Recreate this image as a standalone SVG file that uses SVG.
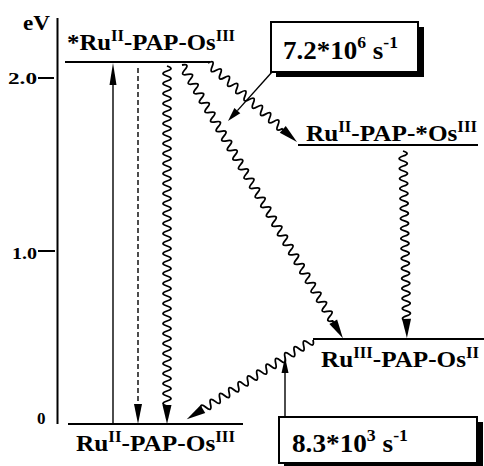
<svg xmlns="http://www.w3.org/2000/svg" width="484" height="466" viewBox="0 0 484 466">
<style>
text{font-family:"Liberation Serif","Times New Roman",serif;font-weight:bold;fill:#000}
.lvl{stroke:#000;stroke-width:2;fill:none}
.wave{stroke:#000;stroke-width:1.8;fill:none}
.ln{stroke:#000;stroke-width:1.4;fill:none}
.head{fill:#000;stroke:none}
.lab{font-size:24px}
.sup{font-size:16px}
.rate{font-size:26px}
.rsup{font-size:17px}
.box{fill:#fff;stroke:#000;stroke-width:2}
.shadow{fill:#000}
</style>
<g id="axis">
<line class="lvl" x1="57.5" y1="18" x2="57.5" y2="424"/>
<line class="lvl" x1="38" y1="78" x2="54" y2="78"/>
<line class="lvl" x1="38" y1="251" x2="55" y2="251"/>
<text x="23" y="30" font-size="21" textLength="27" lengthAdjust="spacingAndGlyphs">eV</text>
<text x="8" y="84" font-size="17" textLength="29" lengthAdjust="spacingAndGlyphs">2.0</text>
<text x="12" y="259" font-size="17" textLength="25" lengthAdjust="spacingAndGlyphs">1.0</text>
<text x="37" y="424" font-size="17">0</text>
</g>
<g id="level-excited">
<line class="lvl" x1="65" y1="62" x2="210" y2="62"/>
<text class="lab" x="67" y="50" textLength="168" lengthAdjust="spacingAndGlyphs">*Ru<tspan class="sup" dy="-9">II</tspan><tspan dy="9">-PAP-Os</tspan><tspan class="sup" dy="-9">III</tspan></text>
</g>
<g id="level-os-excited">
<line class="lvl" x1="298" y1="145" x2="478" y2="145"/>
<text class="lab" x="306" y="141" textLength="171" lengthAdjust="spacingAndGlyphs">Ru<tspan class="sup" dy="-9">II</tspan><tspan dy="9">-PAP-*Os</tspan><tspan class="sup" dy="-9">III</tspan></text>
</g>
<g id="level-cs">
<line class="lvl" x1="313" y1="339" x2="484" y2="339"/>
<text class="lab" x="321" y="367" textLength="158" lengthAdjust="spacingAndGlyphs">Ru<tspan class="sup" dy="-9">III</tspan><tspan dy="9">-PAP-Os</tspan><tspan class="sup" dy="-9">II</tspan></text>
</g>
<g id="level-ground">
<line class="lvl" x1="68" y1="424" x2="243" y2="424"/>
<text class="lab" x="76" y="451" textLength="159" lengthAdjust="spacingAndGlyphs">Ru<tspan class="sup" dy="-9">II</tspan><tspan dy="9">-PAP-Os</tspan><tspan class="sup" dy="-9">III</tspan></text>
</g>
<g id="rate1">
<rect class="shadow" x="276" y="27" width="148" height="50"/>
<rect class="box" x="271" y="22" width="147" height="50"/>
<text class="rate" x="283" y="59" textLength="115" lengthAdjust="spacingAndGlyphs">7.2*10<tspan class="rsup" dy="-11">6</tspan><tspan dy="11"> s</tspan><tspan class="rsup" dy="-11">-1</tspan></text>
</g>
<g id="rate2">
<rect class="shadow" x="284" y="422" width="199" height="46"/>
<rect class="box" x="279" y="417" width="198" height="46"/>
<text class="rate" x="292" y="452" textLength="116" lengthAdjust="spacingAndGlyphs">8.3*10<tspan class="rsup" dy="-11">3</tspan><tspan dy="11"> s</tspan><tspan class="rsup" dy="-11">-1</tspan></text>
</g>
<g id="connectors">
<line class="ln" x1="113" y1="424" x2="113" y2="80"/>
<polygon class="head" points="113,63 109.5,85 116.5,85"/>
<line class="ln" x1="138" y1="68" x2="138" y2="405" stroke-dasharray="5 3"/>
<polygon class="head" points="138,424 134,404 142,404"/>
<g transform="translate(167,66) rotate(90)">
<path class="wave" d="M0 0 q2.5 -8 5 0 t5 0 t5 0 t5 0 t5 0 t5 0 t5 0 t5 0 t5 0 t5 0 t5 0 t5 0 t5 0 t5 0 t5 0 t5 0 t5 0 t5 0 t5 0 t5 0 t5 0 t5 0 t5 0 t5 0 t5 0 t5 0 t5 0 t5 0 t5 0 t5 0 t5 0 t5 0 t5 0 t5 0 t5 0 t5 0 t5 0 t5 0 t5 0 t5 0 t5 0 t5 0 t5 0 t5 0 t5 0 t5 0 t5 0 t5 0 t5 0 t5 0 t5 0 t5 0 t5 0 t5 0 t5 0 t5 0 t5 0 t5 0 t5 0 t5 0 t5 0 t5 0 t5 0 t5 0 t5 0 t5 0 t5 0 t5 0 L344 0"/>
<polygon class="head" points="358,0 339,-4.5 339,4.5"/>
</g>
<g transform="translate(208,63) rotate(41.6)">
<path class="wave" d="M0 0 q2.75 -8 5.5 0 t5.5 0 t5.5 0 t5.5 0 t5.5 0 t5.5 0 t5.5 0 t5.5 0 t5.5 0 t5.5 0 t5.5 0 t5.5 0 t5.5 0 t5.5 0 t5.5 0 t5.5 0 t5.5 0 t5.5 0 L103 0"/>
<polygon class="head" points="119,0 100,-4.5 100,4.5"/>
</g>
<g transform="translate(182,65) rotate(59.5)">
<path class="wave" d="M0 0 q2.75 -8 5.5 0 t5.5 0 t5.5 0 t5.5 0 t5.5 0 t5.5 0 t5.5 0 t5.5 0 t5.5 0 t5.5 0 t5.5 0 t5.5 0 t5.5 0 t5.5 0 t5.5 0 t5.5 0 t5.5 0 t5.5 0 t5.5 0 t5.5 0 t5.5 0 t5.5 0 t5.5 0 t5.5 0 t5.5 0 t5.5 0 t5.5 0 t5.5 0 t5.5 0 t5.5 0 t5.5 0 t5.5 0 t5.5 0 t5.5 0 t5.5 0 t5.5 0 t5.5 0 t5.5 0 t5.5 0 t5.5 0 t5.5 0 t5.5 0 t5.5 0 t5.5 0 t5.5 0 t5.5 0 t5.5 0 t5.5 0 t5.5 0 t5.5 0 t5.5 0 t5.5 0 t5.5 0 t5.5 0 L301 0"/>
<polygon class="head" points="317,0 298,-4.5 298,4.5"/>
</g>
<g transform="translate(403,151) rotate(88.8)">
<path class="wave" d="M0 0 q2.5 -8 5 0 t5 0 t5 0 t5 0 t5 0 t5 0 t5 0 t5 0 t5 0 t5 0 t5 0 t5 0 t5 0 t5 0 t5 0 t5 0 t5 0 t5 0 t5 0 t5 0 t5 0 t5 0 t5 0 t5 0 t5 0 t5 0 t5 0 t5 0 t5 0 t5 0 t5 0 t5 0 t5 0 t5 0 L172 0"/>
<polygon class="head" points="187,0 168,-4.5 168,4.5"/>
</g>
<g transform="translate(313,340) rotate(147.9)">
<path class="wave" d="M0 0 q2.75 -8 5.5 0 t5.5 0 t5.5 0 t5.5 0 t5.5 0 t5.5 0 t5.5 0 t5.5 0 t5.5 0 t5.5 0 t5.5 0 t5.5 0 t5.5 0 t5.5 0 t5.5 0 t5.5 0 t5.5 0 t5.5 0 t5.5 0 t5.5 0 t5.5 0 t5.5 0 t5.5 0 t5.5 0 L133 0"/>
<polygon class="head" points="149,0 130,-4.5 130,4.5"/>
</g>
<line class="ln" x1="272" y1="72" x2="237.4" y2="110.6"/>
<polygon class="head" points="228,121 240.3,113.3 234.4,107.9"/>
<line class="ln" x1="285" y1="416" x2="285" y2="372"/>
<polygon class="head" points="285,357 281.5,373 288.5,373"/>
</g>
</svg>
